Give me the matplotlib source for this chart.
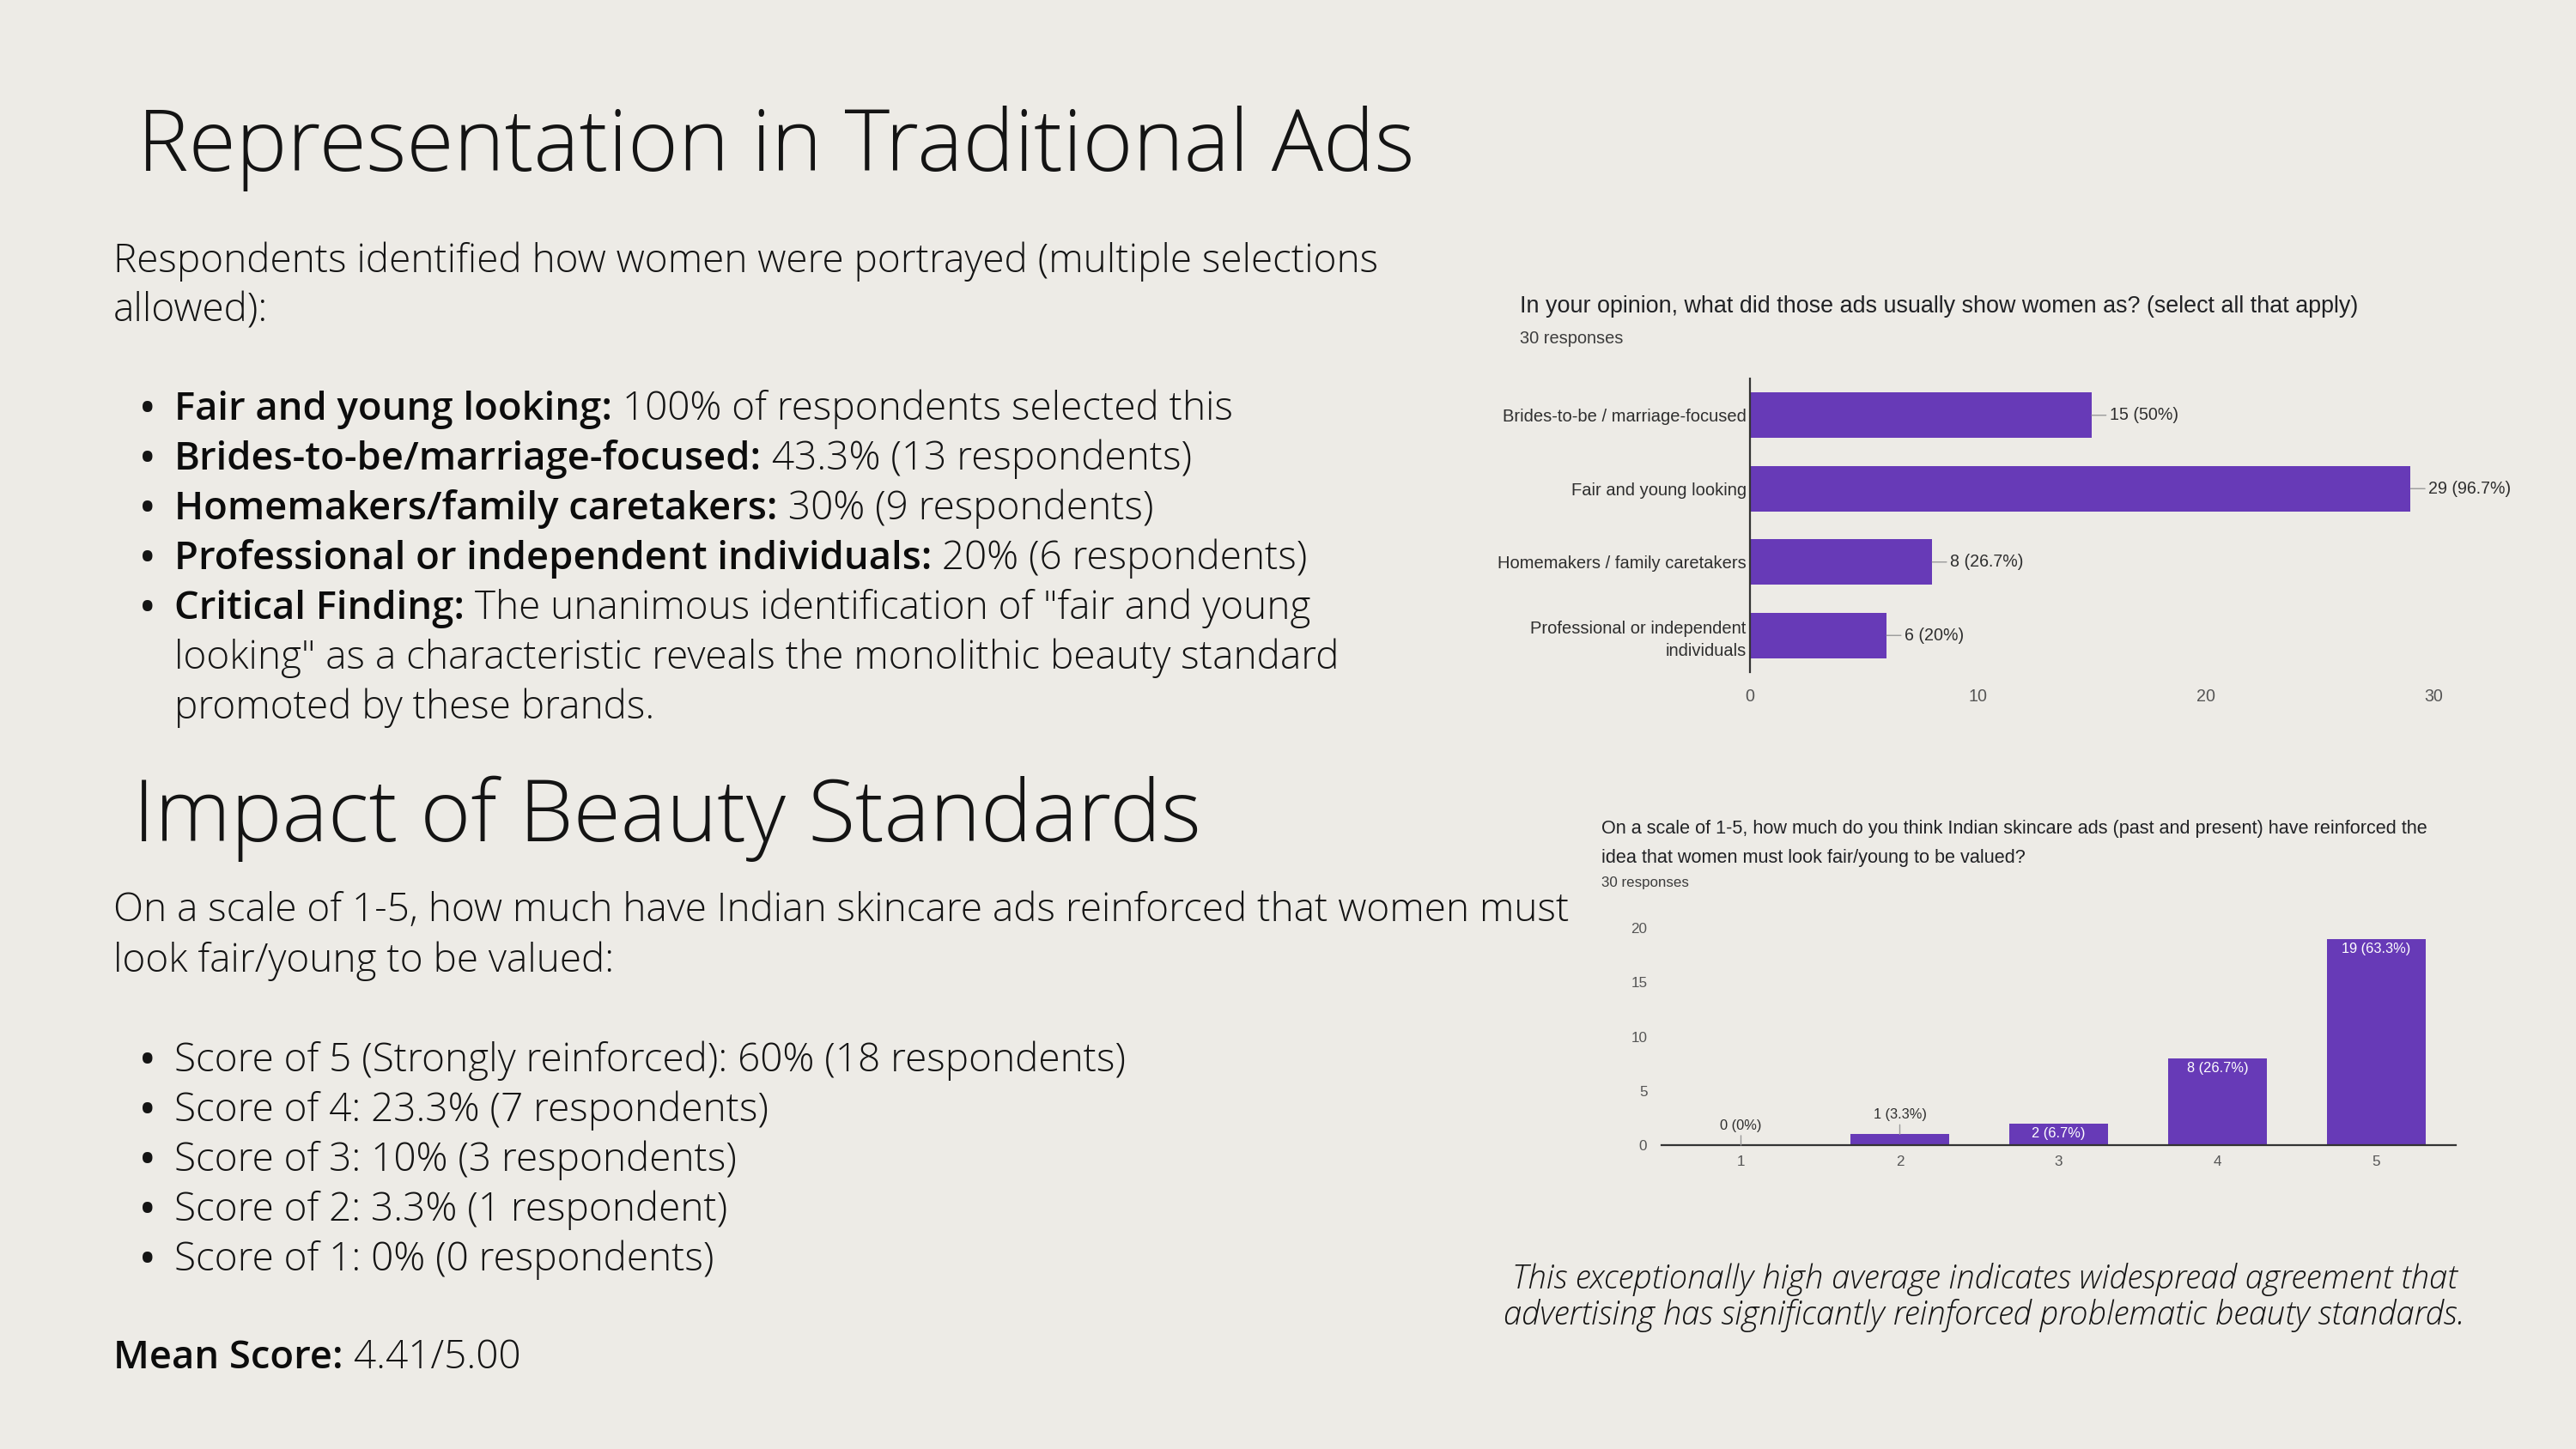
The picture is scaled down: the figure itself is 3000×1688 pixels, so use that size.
import matplotlib
matplotlib.use("Agg")
from matplotlib import pyplot as plt

W, H = 3000, 1688
BG = "#edebe6"
PURPLE = "#673ab7"
INK = "#141414"
SLIDE_FONT = ["Open Sans", "DejaVu Sans"]
CHART_FONT = ["Liberation Sans", "DejaVu Sans"]

# chart 1: how ads usually showed women (multiple choice, 30 responses)
rep_labels = ["Brides-to-be / marriage-focused", "Fair and young looking",
              "Homemakers / family caretakers", "Professional or independent\nindividuals"]
rep_counts = [15, 29, 8, 6]
rep_pct = ["50%", "96.7%", "26.7%", "20%"]
rep_xticks = [0, 10, 20, 30]

# chart 2: 1-5 score, how much ads reinforced the idea
score_labels = ["1", "2", "3", "4", "5"]
score_counts = [0, 1, 2, 8, 19]
score_pct = ["0%", "3.3%", "6.7%", "26.7%", "63.3%"]
score_yticks = [0, 5, 10, 15, 20]

# slide text
title_1 = "Representation in Traditional Ads"
intro_1 = ["Respondents identified how women were portrayed (multiple selections",
           "allowed):"]
bullets_1 = [("Fair and young looking:", " 100% of respondents selected this"),
             ("Brides-to-be/marriage-focused:", " 43.3% (13 respondents)"),
             ("Homemakers/family caretakers:", " 30% (9 respondents)"),
             ("Professional or independent individuals:", " 20% (6 respondents)"),
             ("Critical Finding:", " The unanimous identification of \"fair and young")]
bullets_1_more = ["looking\" as a characteristic reveals the monolithic beauty standard",
                  "promoted by these brands."]
title_2 = "Impact of Beauty Standards"
intro_2 = ["On a scale of 1-5, how much have Indian skincare ads reinforced that women must",
           "look fair/young to be valued:"]
bullets_2 = ["Score of 5 (Strongly reinforced): 60% (18 respondents)",
             "Score of 4: 23.3% (7 respondents)",
             "Score of 3: 10% (3 respondents)",
             "Score of 2: 3.3% (1 respondent)",
             "Score of 1: 0% (0 respondents)"]
mean_score = ("Mean Score:", " 4.41/5.00")
caption = ["This exceptionally high average indicates widespread agreement that",
           "advertising has significantly reinforced problematic beauty standards."]
q1 = "In your opinion, what did those ads usually show women as? (select all that apply)"
q2 = ["On a scale of 1-5, how much do you think Indian skincare ads (past and present) have reinforced the",
      "idea that women must look fair/young to be valued?"]
n_resp = "30 responses"


fig = plt.figure(figsize=(W / 100, H / 100), dpi=100, facecolor=BG)
bg = fig.add_axes([0, 0, 1, 1])
bg.set_xlim(0, W)
bg.set_ylim(H, 0)
bg.axis("off")
renderer = fig.canvas.get_renderer()


def rect(x0, y0, x1, y1):
    return [x0 / W, 1 - y1 / H, (x1 - x0) / W, (y1 - y0) / H]


def fit_size(s, width, **kw):
    # font size that makes string s about `width` pixels wide
    t = bg.text(0, 0, s, fontsize=20, **kw)
    w = t.get_window_extent(renderer).width
    t.remove()
    return 20 * width / w


def slide_text(x, y, s, size, **kw):
    kw.setdefault("color", INK)
    kw.setdefault("family", SLIDE_FONT)
    kw.setdefault("va", "baseline")
    return bg.text(x, y, s, fontsize=size, **kw)


def rich_line(x, y, bold, rest, size, bsize):
    t = slide_text(x, y, bold, bsize, fontweight="semibold", color="#0c0c0c")
    if rest:
        bg.annotate(rest, xy=(1, 0), xycoords=t, va="bottom", fontsize=size,
                    color=INK, family=SLIDE_FONT, fontweight="light")
    return t


def dot(y, size):
    slide_text(172, y, "\u2022", size * 0.9, ha="center", fontweight="bold")


# ---- left column
T = fit_size(title_1, 1489, family=SLIDE_FONT, fontweight="light")
B = fit_size(intro_1[0], 1475, family=SLIDE_FONT, fontweight="light")
BB = min(B, fit_size(bullets_1[3][0], 880, family=SLIDE_FONT, fontweight="semibold"))

slide_text(160, 199, title_1, T, fontweight="light")
slide_text(132, 317, intro_1[0], B, fontweight="light")
slide_text(132, 374, intro_1[1], B, fontweight="light")

y = 489
for bold, rest in bullets_1:
    dot(y, B)
    rich_line(203, y, bold, rest, B, BB)
    y += 58
for line in bullets_1_more:
    slide_text(203, y, line, B, fontweight="light")
    y += 58

slide_text(155, 980, title_2, T, fontweight="light")
slide_text(132, 1073, intro_2[0], B, fontweight="light")
slide_text(132, 1132, intro_2[1], B, fontweight="light")

y = 1248
for line in bullets_2:
    dot(y, B)
    slide_text(203, y, line, B, fontweight="light")
    y += 58

rich_line(132, 1594, mean_score[0], mean_score[1], B, BB)

C = fit_size(caption[0], 1103, family=SLIDE_FONT, fontweight="light", style="italic")
slide_text(2311, 1501, caption[0], C, ha="center", style="italic", fontweight="light")
slide_text(2311, 1543, caption[1], C, ha="center", style="italic", fontweight="light")

# ---- chart 1: horizontal bars
q1_size = fit_size(q1, 972, family=CHART_FONT)
bg.text(1770, 357, q1, fontsize=q1_size, family=CHART_FONT, color="#202124", va="center")
bg.text(1770, 394, n_resp, fontsize=fit_size(n_resp, 120, family=CHART_FONT),
        family=CHART_FONT, color="#3c3c3c", va="center")

cat_size = fit_size(rep_labels[0], 282, family=CHART_FONT)
val_size = fit_size("15 (50%)", 80, family=CHART_FONT)

ax1 = fig.add_axes(rect(2038, 441, 2834, 783))
ax1.set_facecolor("none")
pos = list(range(len(rep_labels)))
ax1.barh(pos, rep_counts, height=0.62, color=PURPLE)
ax1.set_xlim(0, 30)
ax1.set_ylim(len(rep_labels) - 0.5, -0.5)
ax1.set_yticks(pos, rep_labels, family=CHART_FONT, fontsize=cat_size, color="#2e2e2e",
               linespacing=1.45)
ax1.set_xticks(rep_xticks, [str(v) for v in rep_xticks], family=CHART_FONT,
               fontsize=val_size, color="#555555")
ax1.tick_params(axis="y", length=0, pad=3)
ax1.tick_params(axis="x", length=0, pad=14)
for s in ["top", "right", "bottom"]:
    ax1.spines[s].set_visible(False)
ax1.spines["left"].set_color("#333333")
ax1.spines["left"].set_linewidth(1.6)
for i, (c, p) in enumerate(zip(rep_counts, rep_pct)):
    ax1.annotate(f"{c} ({p})", xy=(c, i), xytext=(15, 0), textcoords="offset points",
                 ha="left", va="center", family=CHART_FONT, fontsize=val_size,
                 color="#2e2e2e", annotation_clip=False,
                 arrowprops=dict(arrowstyle="-", color="#999999", lw=1,
                                 shrinkA=1, shrinkB=0))

# ---- chart 2: vertical bars
q2_size = fit_size(q2[0], 962, family=CHART_FONT)
bg.text(1865, 965, q2[0], fontsize=q2_size, family=CHART_FONT, color="#202124", va="center")
bg.text(1865, 1000, q2[1], fontsize=q2_size, family=CHART_FONT, color="#202124", va="center")
bg.text(1865, 1029, n_resp, fontsize=fit_size(n_resp, 101, family=CHART_FONT),
        family=CHART_FONT, color="#3c3c3c", va="center")

lab2_size = fit_size("1 (3.3%)", 62, family=CHART_FONT)
tick2_size = fit_size("20", 19, family=CHART_FONT)

ax2 = fig.add_axes(rect(1935, 1081, 2860, 1334))
ax2.set_facecolor("none")
xs = list(range(1, len(score_labels) + 1))
ax2.bar(xs, score_counts, width=0.62, color=PURPLE)
ax2.set_xlim(0.5, len(score_labels) + 0.5)
ax2.set_ylim(0, 20)
ax2.set_xticks(xs, score_labels, family=CHART_FONT, fontsize=tick2_size, color="#555555")
ax2.set_yticks(score_yticks, [str(v) for v in score_yticks], family=CHART_FONT,
               fontsize=tick2_size, color="#555555")
ax2.tick_params(axis="x", length=0, pad=9)
ax2.tick_params(axis="y", length=0, pad=12)
for s in ["top", "right", "left"]:
    ax2.spines[s].set_visible(False)
ax2.spines["bottom"].set_color("#333333")
ax2.spines["bottom"].set_linewidth(1.6)
for x, c, p in zip(xs, score_counts, score_pct):
    txt = f"{c} ({p})"
    if c >= 2:
        ax2.annotate(txt, xy=(x, c), xytext=(0, -3), textcoords="offset points",
                     ha="center", va="top", family=CHART_FONT, fontsize=lab2_size,
                     color="white")
    else:
        ax2.annotate(txt, xy=(x, c), xytext=(0, 11), textcoords="offset points",
                     ha="center", va="bottom", family=CHART_FONT, fontsize=lab2_size,
                     color="#2e2e2e",
                     arrowprops=dict(arrowstyle="-", color="#999999", lw=1,
                                     shrinkA=1, shrinkB=0))

fig.savefig("out.png", dpi=100, facecolor=BG)
